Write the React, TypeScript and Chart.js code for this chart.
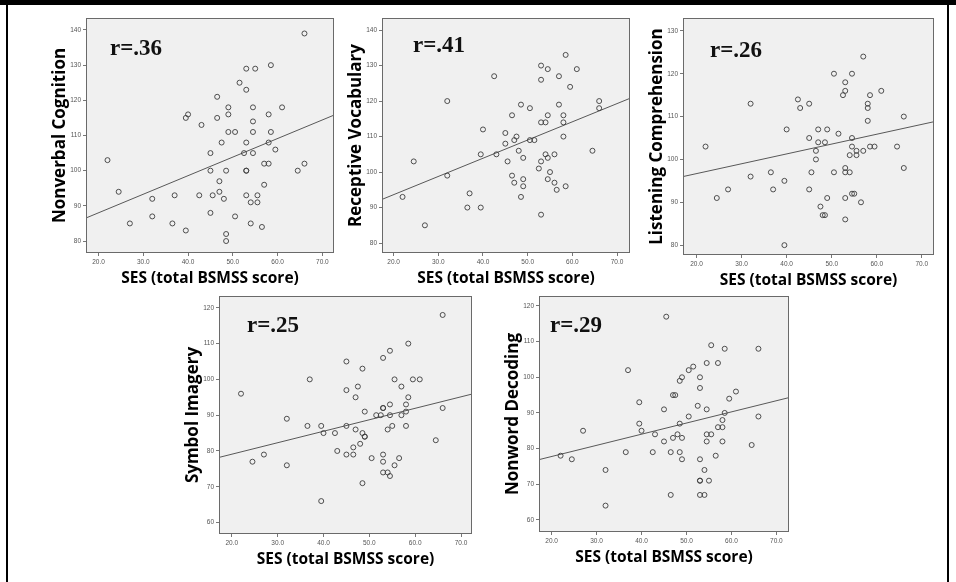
import React, { useEffect, useRef } from 'react';
import { Chart, registerables } from 'chart.js';

Chart.register(...registerables);

// ---------- data ----------
const xTickValues = [20, 30, 40, 50, 60, 70];
const xTitle = 'SES (total BSMSS score)';

// Panel 1: Nonverbal Cognition
const nvcTitle = 'Nonverbal Cognition';
const nvcR = 'r=.36';
const nvcTicks = [80, 90, 100, 110, 120, 130, 140];
const nvcX = [22, 24.5, 27, 32, 32, 36.5, 37, 39.5, 39.5, 40, 42.5, 43, 45, 45, 45.5, 45, 46.5, 46.5, 47, 47, 47.5, 48, 48.5, 48.5, 48.5, 49, 49, 49, 50.5, 50.5, 51.5, 52.5, 53, 53, 53, 53, 53, 53, 54, 54, 54.5, 54.5, 54.5, 54.5, 55, 55.5, 55.5, 56.5, 57, 57, 58, 58, 58, 58.5, 58.5, 59.5, 61, 64.5, 66, 66];
const nvcY = [103, 94, 85, 92, 87, 85, 93, 83, 115, 116, 93, 113, 105, 100, 93, 88, 121, 115, 97, 94, 108, 92, 100, 82, 80, 118, 116, 111, 111, 87, 125, 105, 129, 123, 108, 100, 100, 93, 91, 85, 118, 114, 111, 105, 129, 93, 91, 84, 102, 96, 116, 108, 102, 130, 111, 106, 118, 100, 139, 102];
const nvcFitX = [17.1, 72.8];
const nvcFitY = [86.5, 115.9];

// Panel 2: Receptive Vocabulary
const rvTitle = 'Receptive Vocabulary';
const rvR = 'r=.41';
const rvTicks = [80, 90, 100, 110, 120, 130, 140];
const rvX = [22, 24.5, 27, 32, 32, 36.5, 37, 39.5, 39.5, 40, 42.5, 43, 58.5, 53, 54.5, 61, 53, 57, 59.5, 48.5, 50.5, 57, 66, 66, 46.5, 54.5, 58, 53, 54, 58, 45, 58, 47.5, 47, 45, 50.5, 51.5, 48, 64.5, 49, 54, 56, 54.5, 45.5, 53, 52.5, 55, 46.5, 49, 54.5, 47, 56, 49, 58.5, 56.5, 48.5, 53];
const rvY = [93, 103, 85, 120, 99, 90, 94, 90, 105, 112, 127, 105, 133, 130, 129, 129, 126, 127, 124, 119, 118, 119, 120, 118, 116, 116, 116, 114, 114, 114, 111, 110, 110, 109, 108, 109, 109, 106, 106, 104, 105, 105, 104, 103, 103, 101, 100, 99, 98, 98, 97, 97, 96, 96, 95, 93, 88];
const rvFitX = [17.4, 72.95];
const rvFitY = [92.3, 120.8];

// Panel 3: Listening Comprehension
const lcTitle = 'Listening Comprehension';
const lcR = 'r=.26';
const lcTicks = [80, 90, 100, 110, 120, 130];
const lcX = [22, 24.5, 27, 32, 32, 36.5, 37, 39.5, 40, 39.5, 42.5, 43, 45, 45, 45, 45.5, 46.5, 46.5, 47, 47, 48.5, 49, 49, 47.5, 48, 48.5, 50.5, 50.5, 51.5, 54.5, 53, 53, 52.5, 53, 53, 54, 53, 53, 54.5, 54.5, 54, 54.5, 55, 55.5, 55.5, 56.5, 57, 57, 58, 58, 58, 58.5, 58.5, 59.5, 61, 64.5, 66, 66];
const lcY = [103, 91, 93, 113, 96, 97, 93, 95, 107, 80, 114, 112, 113, 105, 93, 97, 102, 100, 107, 104, 104, 107, 91, 89, 87, 87, 120, 97, 106, 120, 118, 116, 115, 98, 97, 97, 91, 86, 105, 103, 101, 92, 92, 102, 101, 90, 102, 124, 113, 112, 109, 115, 103, 103, 116, 103, 110, 98];
const lcFitX = [17.0, 72.7];
const lcFitY = [96.0, 108.8];

// Panel 4: Symbol Imagery
const siTitle = 'Symbol Imagery';
const siR = 'r=.25';
const siTicks = [60, 70, 80, 90, 100, 110, 120];
const siX = [22, 24.5, 27, 32, 32, 36.5, 37, 39.5, 40, 39.5, 42.5, 43, 66, 58.5, 54.5, 53, 45, 48.5, 55.5, 59.5, 61, 57, 47.5, 45, 47, 58.5, 58, 54.5, 53, 53, 49, 58, 51.5, 52.5, 54.5, 57, 66, 45, 58, 55, 54, 47, 48.5, 49, 49, 48, 64.5, 46.5, 45, 46.5, 50.5, 53, 56.5, 53, 55.5, 53, 54, 54.5, 48.5];
const siY = [96, 77, 79, 89, 76, 87, 100, 87, 85, 66, 85, 80, 118, 110, 108, 106, 105, 103, 100, 100, 100, 98, 98, 97, 95, 95, 93, 93, 92, 92, 91, 91, 90, 90, 90, 90, 92, 87, 87, 87, 86, 86, 85, 84, 84, 82, 83, 81, 79, 79, 78, 79, 78, 77, 76, 74, 74, 73, 71];
const siFitX = [17.2, 72.4];
const siFitY = [78.2, 95.9];

// Panel 5: Nonword Decoding
const ndTitle = 'Nonword Decoding';
const ndR = 'r=.29';
const ndTicks = [60, 70, 80, 90, 100, 110, 120];
const ndX = [22, 24.5, 27, 32, 32, 37, 36.5, 39.5, 39.5, 40, 45.5, 55.5, 58.5, 66, 54.5, 57, 51.5, 50.5, 53, 49, 48.5, 53, 47, 47.5, 61, 59.5, 52.5, 45, 54.5, 50.5, 58.5, 66, 58, 48.5, 57, 58, 43, 48, 47, 49, 54.5, 55.5, 45, 54.5, 58, 64.5, 42.5, 46.5, 48.5, 56.5, 49, 53, 54, 53, 53, 55, 46.5, 53, 54];
const ndY = [78, 77, 85, 74, 64, 102, 79, 93, 87, 85, 117, 109, 108, 108, 104, 104, 103, 102, 100, 100, 99, 97, 95, 95, 96, 94, 92, 91, 91, 89, 90, 89, 88, 87, 86, 86, 84, 84, 83, 83, 84, 84, 82, 82, 82, 81, 79, 79, 79, 78, 77, 77, 74, 71, 71, 71, 67, 67, 67];
const ndFitX = [17.2, 72.8];
const ndFitY = [76.9, 94.3];

// ---------- layout ----------
const Y_AXIS_W = 36;
const X_AXIS_H = 35;
const PAD = 8;

type PanelSpec = {
  title: string; r: string; ticks: number[];
  xs: number[]; ys: number[]; fitX: number[]; fitY: number[];
  box: { l: number; t: number; r: number; b: number };
  xMin: number; xMax: number; yMin: number; yMax: number;
  rdx: number; rdy: number;
};

const panels: PanelSpec[] = [
  { title: nvcTitle, r: nvcR, ticks: nvcTicks, xs: nvcX, ys: nvcY, fitX: nvcFitX, fitY: nvcFitY,
    box: { l: 86, t: 18, r: 334, b: 253 }, xMin: 17.2, xMax: 72.6, yMin: 76.6, yMax: 143.4, rdx: 24, rdy: 37 },
  { title: rvTitle, r: rvR, ticks: rvTicks, xs: rvX, ys: rvY, fitX: rvFitX, fitY: rvFitY,
    box: { l: 382, t: 18, r: 630, b: 253 }, xMin: 17.4, xMax: 72.9, yMin: 77.2, yMax: 143.4, rdx: 31, rdy: 34 },
  { title: lcTitle, r: lcR, ticks: lcTicks, xs: lcX, ys: lcY, fitX: lcFitX, fitY: lcFitY,
    box: { l: 683, t: 18, r: 934, b: 255 }, xMin: 17.0, xMax: 72.7, yMin: 77.7, yMax: 133.0, rdx: 27, rdy: 39 },
  { title: siTitle, r: siR, ticks: siTicks, xs: siX, ys: siY, fitX: siFitX, fitY: siFitY,
    box: { l: 219, t: 296, r: 472, b: 534 }, xMin: 17.2, xMax: 72.4, yMin: 56.8, yMax: 123.3, rdx: 28, rdy: 36 },
  { title: ndTitle, r: ndR, ticks: ndTicks, xs: ndX, ys: ndY, fitX: ndFitX, fitY: ndFitY,
    box: { l: 539, t: 296, r: 789, b: 532 }, xMin: 17.2, xMax: 72.8, yMin: 56.6, yMax: 122.8, rdx: 11, rdy: 36 },
];

const decoPlugin = {
  id: 'panelDeco',
  beforeDraw(chart: any) {
    const { ctx, chartArea: a } = chart;
    ctx.save();
    ctx.fillStyle = '#f0f0f0';
    ctx.fillRect(a.left, a.top, a.right - a.left, a.bottom - a.top);
    ctx.restore();
  },
  afterDraw(chart: any, _args: any, opts: any) {
    const { ctx, chartArea: a } = chart;
    ctx.save();
    ctx.strokeStyle = '#6a6a6a';
    ctx.lineWidth = 1;
    ctx.strokeRect(a.left + 0.5, a.top + 0.5, a.right - a.left - 1, a.bottom - a.top - 1);
    ctx.fillStyle = '#111';
    ctx.font = 'bold 23px "Liberation Serif", "Times New Roman", serif';
    ctx.textBaseline = 'alphabetic';
    ctx.textAlign = 'left';
    ctx.fillText(opts.text, a.left + opts.dx, a.top + opts.dy);
    ctx.restore();
  },
};

function ScatterPanel({ p }: { p: PanelSpec }) {
  const ref = useRef<HTMLCanvasElement | null>(null);
  const w = p.box.r - p.box.l + Y_AXIS_W + PAD;
  const h = p.box.b - p.box.t + PAD + X_AXIS_H;
  useEffect(() => {
    if (!ref.current) return;
    const tickFont = { family: '"Liberation Sans", Arial, sans-serif', size: 6.5 };
    const chart = new Chart(ref.current, {
      type: 'scatter',
      data: {
        datasets: [
          {
            type: 'scatter',
            data: p.xs.map((x, i) => ({ x, y: p.ys[i] })),
            pointRadius: 2.5,
            pointBorderWidth: 0.9,
            pointBorderColor: '#3c3c3c',
            pointBackgroundColor: 'rgba(0,0,0,0)',
          } as any,
          {
            type: 'line',
            data: p.fitX.map((x, i) => ({ x, y: p.fitY[i] })),
            borderColor: '#585858',
            borderWidth: 1,
            pointRadius: 0,
            fill: false,
          } as any,
        ],
      },
      options: {
        animation: false,
        responsive: false,
        maintainAspectRatio: false,
        layout: { padding: { left: 0, top: PAD, right: PAD, bottom: 0 } },
        plugins: {
          legend: { display: false },
          tooltip: { enabled: false },
          panelDeco: { text: p.r, dx: p.rdx, dy: p.rdy },
        } as any,
        scales: {
          x: {
            type: 'linear',
            min: p.xMin,
            max: p.xMax,
            afterBuildTicks: (s: any) => { s.ticks = xTickValues.map((v) => ({ value: v })); },
            afterFit: (s: any) => { s.height = X_AXIS_H; },
            ticks: {
              autoSkip: false,
              maxRotation: 0,
              padding: 2,
              color: '#555',
              font: tickFont,
              callback: (v: any) => Number(v).toFixed(1),
            },
            grid: { display: true, drawOnChartArea: false, drawTicks: true, tickLength: 3, color: '#777' },
            border: { display: false },
            title: {
              display: true,
              text: xTitle,
              color: '#000',
              padding: 0,
              font: { family: '"Open Sans", sans-serif', weight: 'bold', size: 15.5 },
            },
          },
          y: {
            type: 'linear',
            min: p.yMin,
            max: p.yMax,
            afterBuildTicks: (s: any) => { s.ticks = p.ticks.map((v) => ({ value: v })); },
            afterFit: (s: any) => { s.width = Y_AXIS_W; },
            ticks: {
              autoSkip: false,
              padding: 2,
              color: '#555',
              font: tickFont,
              callback: (v: any) => String(v),
            },
            grid: { display: true, drawOnChartArea: false, drawTicks: true, tickLength: 3, color: '#777' },
            border: { display: false },
            title: {
              display: true,
              text: p.title,
              color: '#000',
              padding: 0,
              font: { family: '"Open Sans", sans-serif', weight: 'bold', size: 17 },
            },
          },
        },
      } as any,
      plugins: [decoPlugin],
    });
    return () => chart.destroy();
  }, []);
  return (
    <canvas
      ref={ref}
      width={w}
      height={h}
      style={{ position: 'absolute', left: p.box.l - Y_AXIS_W, top: p.box.t - PAD, width: w, height: h }}
    />
  );
}

export default function App() {
  return (
    <div style={{ position: 'absolute', left: 0, top: 0, width: 956, height: 582, background: '#fff', overflow: 'hidden' }}>
      <div style={{ position: 'absolute', left: 0, top: 0, width: 956, height: 5, background: '#000' }} />
      <div style={{ position: 'absolute', left: 6, top: 0, width: 2, height: 582, background: '#000' }} />
      <div style={{ position: 'absolute', left: 947, top: 0, width: 2, height: 582, background: '#000' }} />
      {panels.map((p, i) => (
        <ScatterPanel key={i} p={p} />
      ))}
    </div>
  );
}
